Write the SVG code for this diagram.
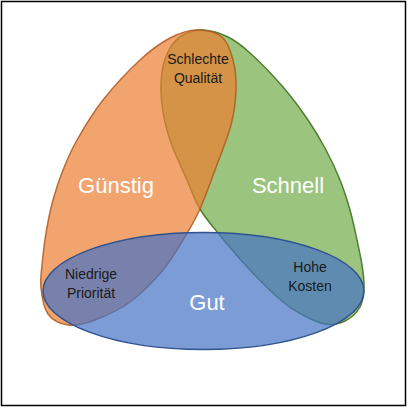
<svg xmlns="http://www.w3.org/2000/svg" width="408" height="408" viewBox="0 0 408 408">
<style>
.e{stroke-width:1.5}
.lbl{font-family:"Liberation Sans",Arial,sans-serif;font-size:14px;fill:#1a1a1a;text-anchor:middle}
.big{font-family:"Liberation Sans",Arial,sans-serif;font-size:22px;fill:#ffffff;text-anchor:middle}
</style>
<rect x="1.5" y="1.5" width="404" height="404" fill="#ffffff" stroke="#000000" stroke-width="1.5"/>
<g id="schnell">
<path class="e" fill="#70AD47" fill-opacity="0.7" stroke="#507E32" d="M203,30 C210.5,30.33 220.17,33.17 228,37 C235.83,40.83 240.83,44.67 250,53 C259.17,61.33 273.33,75.83 283,87 C292.67,98.17 300.83,109.5 308,120 C315.17,130.5 320.67,140 326,150 C331.33,160 336,170 340,180 C344,190 347.17,200 350,210 C352.83,220 355,230.83 357,240 C359,249.17 360.83,257.17 362,265 C363.17,272.83 364.33,280 364,287 C363.67,294 363.17,301.33 360,307 C356.83,312.67 350.83,318.17 345,321 C339.17,323.83 332,325 325,324 C318,323 310,318.67 303,315 C296,311.33 291.83,309.5 283,302 C274.17,294.5 260.83,281.5 250,270 C239.17,258.5 226.33,243.17 218,233 C209.67,222.83 205.17,217.83 200,209 C194.83,200.17 192,191.5 187,180 C182,168.5 174.17,152.5 170,140 C165.83,127.5 163.33,116.33 162,105 C160.67,93.67 160.67,81.5 162,72 C163.33,62.5 166.5,54.17 170,48 C173.5,41.83 177.5,38 183,35 C188.5,32 195.5,29.67 203,30 Z"/>
</g>
<g id="guenstig">
<path class="e" fill="#ED7D31" fill-opacity="0.7" stroke="#AE5A21" stroke-opacity="0.85" d="M197,30 C205.67,29.83 216,32 222,37 C228,42 230.67,51.17 233,60 C235.33,68.83 236.33,79.17 236,90 C235.67,100.83 234.5,111.67 231,125 C227.5,138.33 220.17,156 215,170 C209.83,184 204.83,198.17 200,209 C195.17,219.83 192.17,224.83 186,235 C179.83,245.17 172.33,258.83 163,270 C153.67,281.17 141.33,293.67 130,302 C118.67,310.33 105.33,316.17 95,320 C84.67,323.83 75.83,326 68,325 C60.17,324 52.5,320.17 48,314 C43.5,307.83 41.92,297 41,288 C40.08,279 41.58,269.67 42.5,260 C43.42,250.33 44.75,240 46.5,230 C48.25,220 50.25,210 53,200 C55.75,190 59,180 63,170 C67,160 70.33,151.67 77,140 C83.67,128.33 92.5,113.33 103,100 C113.5,86.67 128.83,70.33 140,60 C151.17,49.67 160.5,43 170,38 C179.5,33 188.33,30.17 197,30 Z"/>
</g>
<g id="gut">
<ellipse class="e" cx="203.5" cy="291" rx="160.5" ry="58.5" fill="#4472C4" fill-opacity="0.7" stroke="#2F528F"/>
</g>
<g id="labels">
<text class="big" x="116" y="193">Günstig</text>
<text class="big" x="288" y="193">Schnell</text>
<text class="big" x="207" y="310">Gut</text>
<text class="lbl" x="198" y="64">Schlechte</text>
<text class="lbl" x="198" y="83">Qualität</text>
<text class="lbl" x="91" y="279">Niedrige</text>
<text class="lbl" x="91" y="298">Priorität</text>
<text class="lbl" x="310" y="272">Hohe</text>
<text class="lbl" x="310" y="291">Kosten</text>
</g>
<g id="connectors"></g>
</svg>
